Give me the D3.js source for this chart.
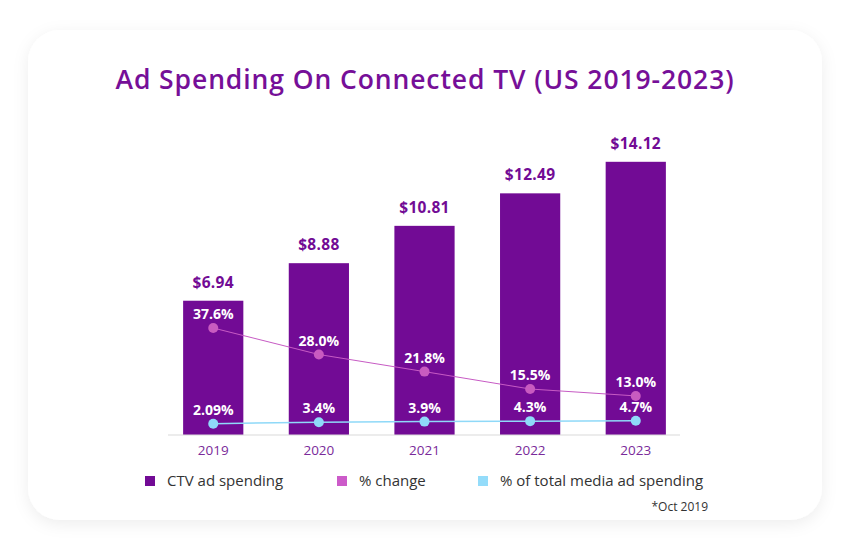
<!DOCTYPE html>
<html><head><meta charset="utf-8">
<script src="https://cdn.jsdelivr.net/npm/d3@7"></script>
<style>html,body{margin:0;padding:0;background:#fff;}</style>
</head><body>
<script>
const years = ["2019","2020","2021","2022","2023"];
const spending = [6.94, 8.88, 10.81, 12.49, 14.12];
const spendingLabels = ["$6.94","$8.88","$10.81","$12.49","$14.12"];
const pctChange = [37.6, 28.0, 21.8, 15.5, 13.0];
const pctChangeLabels = ["37.6%","28.0%","21.8%","15.5%","13.0%"];
const pctTotal = [2.09, 3.4, 3.9, 4.3, 4.7];
const pctTotalLabels = ["2.09%","3.4%","3.9%","4.3%","4.7%"];
const legendNames = ["CTV ad spending","% change","% of total media ad spending"];
const legendColors = ["#720b95","#cc5bc9","#94dcfa"];

const W = 850, H = 550;
const font = "'Open Sans', 'Noto Sans', sans-serif";
const svg = d3.select("body").append("svg").attr("width", W).attr("height", H);
const defs = svg.append("defs");
const f = defs.append("filter").attr("id","sh").attr("x","-10%").attr("y","-10%").attr("width","120%").attr("height","125%");
f.append("feDropShadow").attr("dx",0).attr("dy",4).attr("stdDeviation",8).attr("flood-color","#000").attr("flood-opacity",0.07);

svg.append("rect").attr("x",28).attr("y",30).attr("width",794).attr("height",490).attr("rx",32)
  .attr("fill","#fff").attr("filter","url(#sh)");

svg.append("text").attr("x",425).attr("y",89).attr("text-anchor","middle")
  .attr("font-family",font).attr("font-weight",600).attr("font-size",26.5).attr("letter-spacing",0.9).attr("fill","#760f98")
  .text("Ad Spending On Connected TV (US 2019-2023)");

const x = d3.scaleBand().domain(years).range([162, 687]).paddingInner(0.43).paddingOuter(0.2);
const y = d3.scaleLinear().domain([0, 14.12]).range([435, 161.8]);
const yC = d3.scaleLinear().domain([0, 37.6]).range([431.8, 328]);
const yT = d3.scaleLinear().domain([0, 4.7]).range([426.1, 420.7]);

const g = svg.append("g");
g.selectAll("rect.bar").data(spending).join("rect").attr("class","bar")
  .attr("x",(d,i)=>x(years[i])).attr("width",x.bandwidth())
  .attr("y",d=>y(d)).attr("height",d=>y(0)-y(d)).attr("fill","#720b95");

g.selectAll("text.val").data(spending).join("text").attr("class","val")
  .attr("x",(d,i)=>x(years[i])+x.bandwidth()/2).attr("y",d=>y(d)-13)
  .attr("text-anchor","middle").attr("font-family",font).attr("font-weight",700)
  .attr("font-size",15.5).attr("letter-spacing",0.3).attr("fill","#720b95").text((d,i)=>spendingLabels[i]);

const axis = d3.axisBottom(x).tickSize(0).tickPadding(10);
const ax = svg.append("g").attr("transform","translate(0,435)").call(axis);
ax.select(".domain").attr("stroke","#d9d9d9").attr("stroke-width",1.2).attr("d","M168,0H680");
ax.selectAll("text").attr("font-family",font).attr("font-size",13.5).attr("fill","#7a2a9a");

const cx = (i)=>x(years[i])+x.bandwidth()/2;
const lineC = d3.line().x((d,i)=>cx(i)).y(d=>yC(d));
const lineT = d3.line().x((d,i)=>cx(i)).y(d=>yT(d));
svg.append("path").attr("d",lineC(pctChange)).attr("fill","none").attr("stroke","#c75bc4").attr("stroke-width",1);
svg.append("path").attr("d",lineT(pctTotal)).attr("fill","none").attr("stroke","#8fd9f8").attr("stroke-width",1.5);
svg.selectAll("circle.c").data(pctChange).join("circle").attr("class","c")
  .attr("cx",(d,i)=>cx(i)).attr("cy",d=>yC(d)).attr("r",5).attr("fill","#c85bc0");
svg.selectAll("circle.t").data(pctTotal).join("circle").attr("class","t")
  .attr("cx",(d,i)=>cx(i)).attr("cy",d=>yT(d)).attr("r",5).attr("fill","#8fd9f8");

svg.selectAll("text.lc").data(pctChange).join("text").attr("class","lc")
  .attr("x",(d,i)=>cx(i)).attr("y",d=>yC(d)-9).attr("text-anchor","middle")
  .attr("font-family",font).attr("font-weight",700).attr("font-size",14).attr("fill","#fff")
  .text((d,i)=>pctChangeLabels[i]);
svg.selectAll("text.lt").data(pctTotal).join("text").attr("class","lt")
  .attr("x",(d,i)=>cx(i)).attr("y",d=>yT(d)-9).attr("text-anchor","middle")
  .attr("font-family",font).attr("font-weight",700).attr("font-size",14).attr("fill","#fff")
  .text((d,i)=>pctTotalLabels[i]);

const legX = [145, 337, 478];
const leg = svg.append("g");
legendNames.forEach((n,i)=>{
  leg.append("rect").attr("x",legX[i]).attr("y",476).attr("width",10).attr("height",10).attr("fill",legendColors[i]);
  leg.append("text").attr("x",legX[i]+22).attr("y",486).attr("font-family",font)
    .attr("font-size",15).attr("fill","#333").text(n);
});
svg.append("text").attr("x",708).attr("y",511).attr("text-anchor","end").attr("font-family",font)
  .attr("font-size",12).attr("fill","#333").text("*Oct 2019");
</script>
</body></html>
